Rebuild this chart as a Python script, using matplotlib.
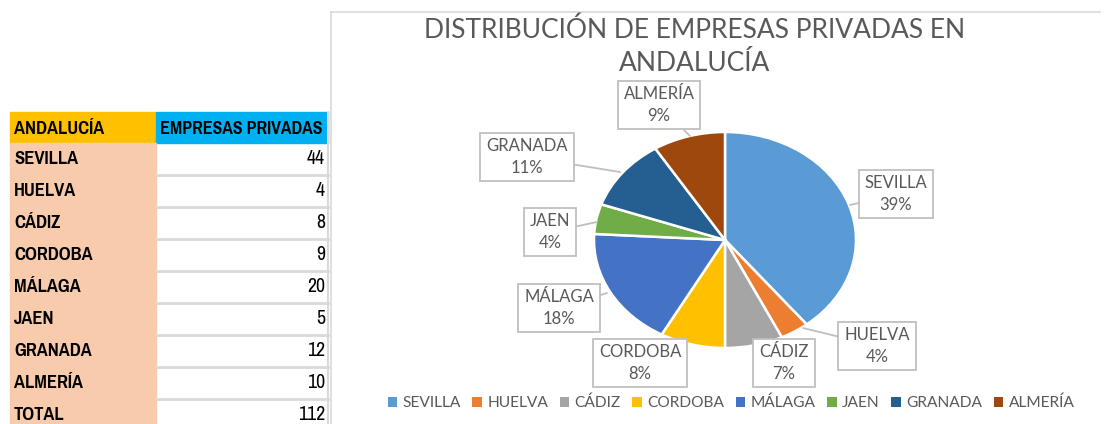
import matplotlib.pyplot as plt
from matplotlib.patches import Rectangle
from matplotlib import font_manager

# -------------------------------
# Data
# -------------------------------
provincias = ["SEVILLA", "HUELVA", "CÁDIZ", "CORDOBA", "MÁLAGA", "JAEN", "GRANADA", "ALMERÍA"]
empresas = [44, 4, 8, 9, 20, 5, 12, 10]
colores = ["#5B9BD5", "#ED7D31", "#A5A5A5", "#FFC000", "#4472C4", "#70AD47", "#255E91", "#9E480E"]
total = sum(empresas)

titulo = "DISTRIBUCIÓN DE EMPRESAS PRIVADAS EN\nANDALUCÍA"


# -------------------------------
# Fonts: look for a narrow/condensed face for the spreadsheet part
# -------------------------------
def _w(f):
    w = f.weight
    if isinstance(w, str):
        return 700 if "bold" in w else 400
    return w


def find_narrow(bold):
    best = None
    for f in font_manager.fontManager.ttflist:
        narrow = ("narrow" in f.name.lower() or "condensed" in f.name.lower()
                  or f.stretch in ("condensed", "semi-condensed"))
        if not narrow or f.style != "normal":
            continue
        ok = _w(f) >= 600 if bold else _w(f) < 600
        if ok and (best is None or "semi" in str(f.stretch) or "Narrow" in f.name):
            best = f
    if best is None:
        return font_manager.FontProperties(family="Roboto", weight="bold" if bold else "normal")
    return font_manager.FontProperties(fname=best.fname)


tab_bold = find_narrow(True)
tab_reg = find_narrow(False)
chart_font = ["Lato", "DejaVu Sans"]
gray_txt = "#595959"

W, H = 1107, 424
fig = plt.figure(figsize=(W / 100, H / 100), dpi=100)

# pie axes (ellipse: Excel chart is squeezed vertically)
cx, cy, rx, ry = 725, 240, 131, 108
pax = fig.add_axes([(cx - rx) / W, 1 - (cy + ry) / H, 2 * rx / W, 2 * ry / H])
wedges, _ = pax.pie(empresas, colors=colores, startangle=90, counterclock=False,
                    wedgeprops=dict(edgecolor="white", linewidth=1.8))
pax.set_aspect("auto")
pax.set_xlim(-1, 1)
pax.set_ylim(-1, 1)
pax.axis("off")

# overlay axes in pixel coordinates
ov = fig.add_axes([0, 0, 1, 1], zorder=5)
ov.set_xlim(0, W)
ov.set_ylim(H, 0)
ov.axis("off")
ov.patch.set_alpha(0)

# -------------------------------
# Spreadsheet table on the left
# -------------------------------
colA, colB, colEnd = 10, 156, 328
top, hdr_h, row_h = 112, 31, 32
fs_tab = 14.5
ov.add_patch(Rectangle((colA, top), colB - colA, hdr_h, color="#FFC000"))
ov.add_patch(Rectangle((colB, top), colEnd - colB, hdr_h, color="#00B0F0"))
ov.add_patch(Rectangle((colA, top + hdr_h), colB - colA, H, color="#F8CBAD"))
ov.text(colA + 4, top + hdr_h / 2 + 1, "ANDALUCÍA", fontproperties=tab_bold,
        fontsize=fs_tab, va="center", ha="left")
ov.text(colB + 4, top + hdr_h / 2 + 1, "EMPRESAS PRIVADAS", fontproperties=tab_bold,
        fontsize=14, va="center", ha="left")

filas = provincias + ["TOTAL"]
valores = empresas + [total]
for i, (p, v) in enumerate(zip(filas, valores)):
    y0 = top + hdr_h + i * row_h
    if i > 0:
        ov.plot([colB, colEnd], [y0, y0], color="#D9D9D9", lw=2)
    ov.text(colA + 4, y0 + row_h / 2, p, fontproperties=tab_bold,
            fontsize=fs_tab, va="center", ha="left")
    ov.text(colEnd - 3, y0 + row_h / 2, str(v), fontproperties=tab_reg,
            fontsize=15.5, va="center", ha="right")
ov.plot([colEnd, colEnd], [top, H], color="#D9D9D9", lw=1.5)

# chart area border
ov.plot([331, 331], [12, H], color="#D9D9D9", lw=1.2)
ov.plot([331, 1100], [12, 12], color="#D9D9D9", lw=1.2)

# -------------------------------
# Title
# -------------------------------
ov.text(695, 47, titulo, family=chart_font, fontsize=19, color=gray_txt,
        ha="center", va="center", linespacing=1.4)

# -------------------------------
# Data labels (callouts)
# -------------------------------
label_pos = [(896, 194), (877, 346), (784, 363), (640, 363),
             (559, 308), (550, 232), (527, 157), (659, 105)]
tips = [(850, 205), (803, 328), (772, 345), (668, 344),
        (607, 293), (597, 222), (620, 172), (690, 136)]
for p, v, (tx, ty), (px, py) in zip(provincias, empresas, label_pos, tips):
    pct = round(v / total * 100)
    ov.annotate(f"{p}\n{pct}%", xy=(px, py), xytext=(tx, ty),
                ha="center", va="center", family=chart_font, fontsize=12,
                color=gray_txt, linespacing=1.4,
                bbox=dict(boxstyle="square,pad=0.35", fc="white", ec="#BFBFBF", lw=1.3),
                arrowprops=dict(arrowstyle="-", color="#BFBFBF", lw=1.3,
                                shrinkA=0, shrinkB=0))

# -------------------------------
# Legend
# -------------------------------
leg = fig.legend(wedges, provincias, loc="center", bbox_to_anchor=(731 / W, 1 - 403 / H),
                 ncol=8, frameon=False, handlelength=0.6, handleheight=0.6,
                 handletextpad=0.35, columnspacing=0.75,
                 prop=dict(family=chart_font, size=11.2))
for t in leg.get_texts():
    t.set_color(gray_txt)
for h in leg.legend_handles:
    h.set_edgecolor("none")

fig.savefig("out.png", dpi=100)
